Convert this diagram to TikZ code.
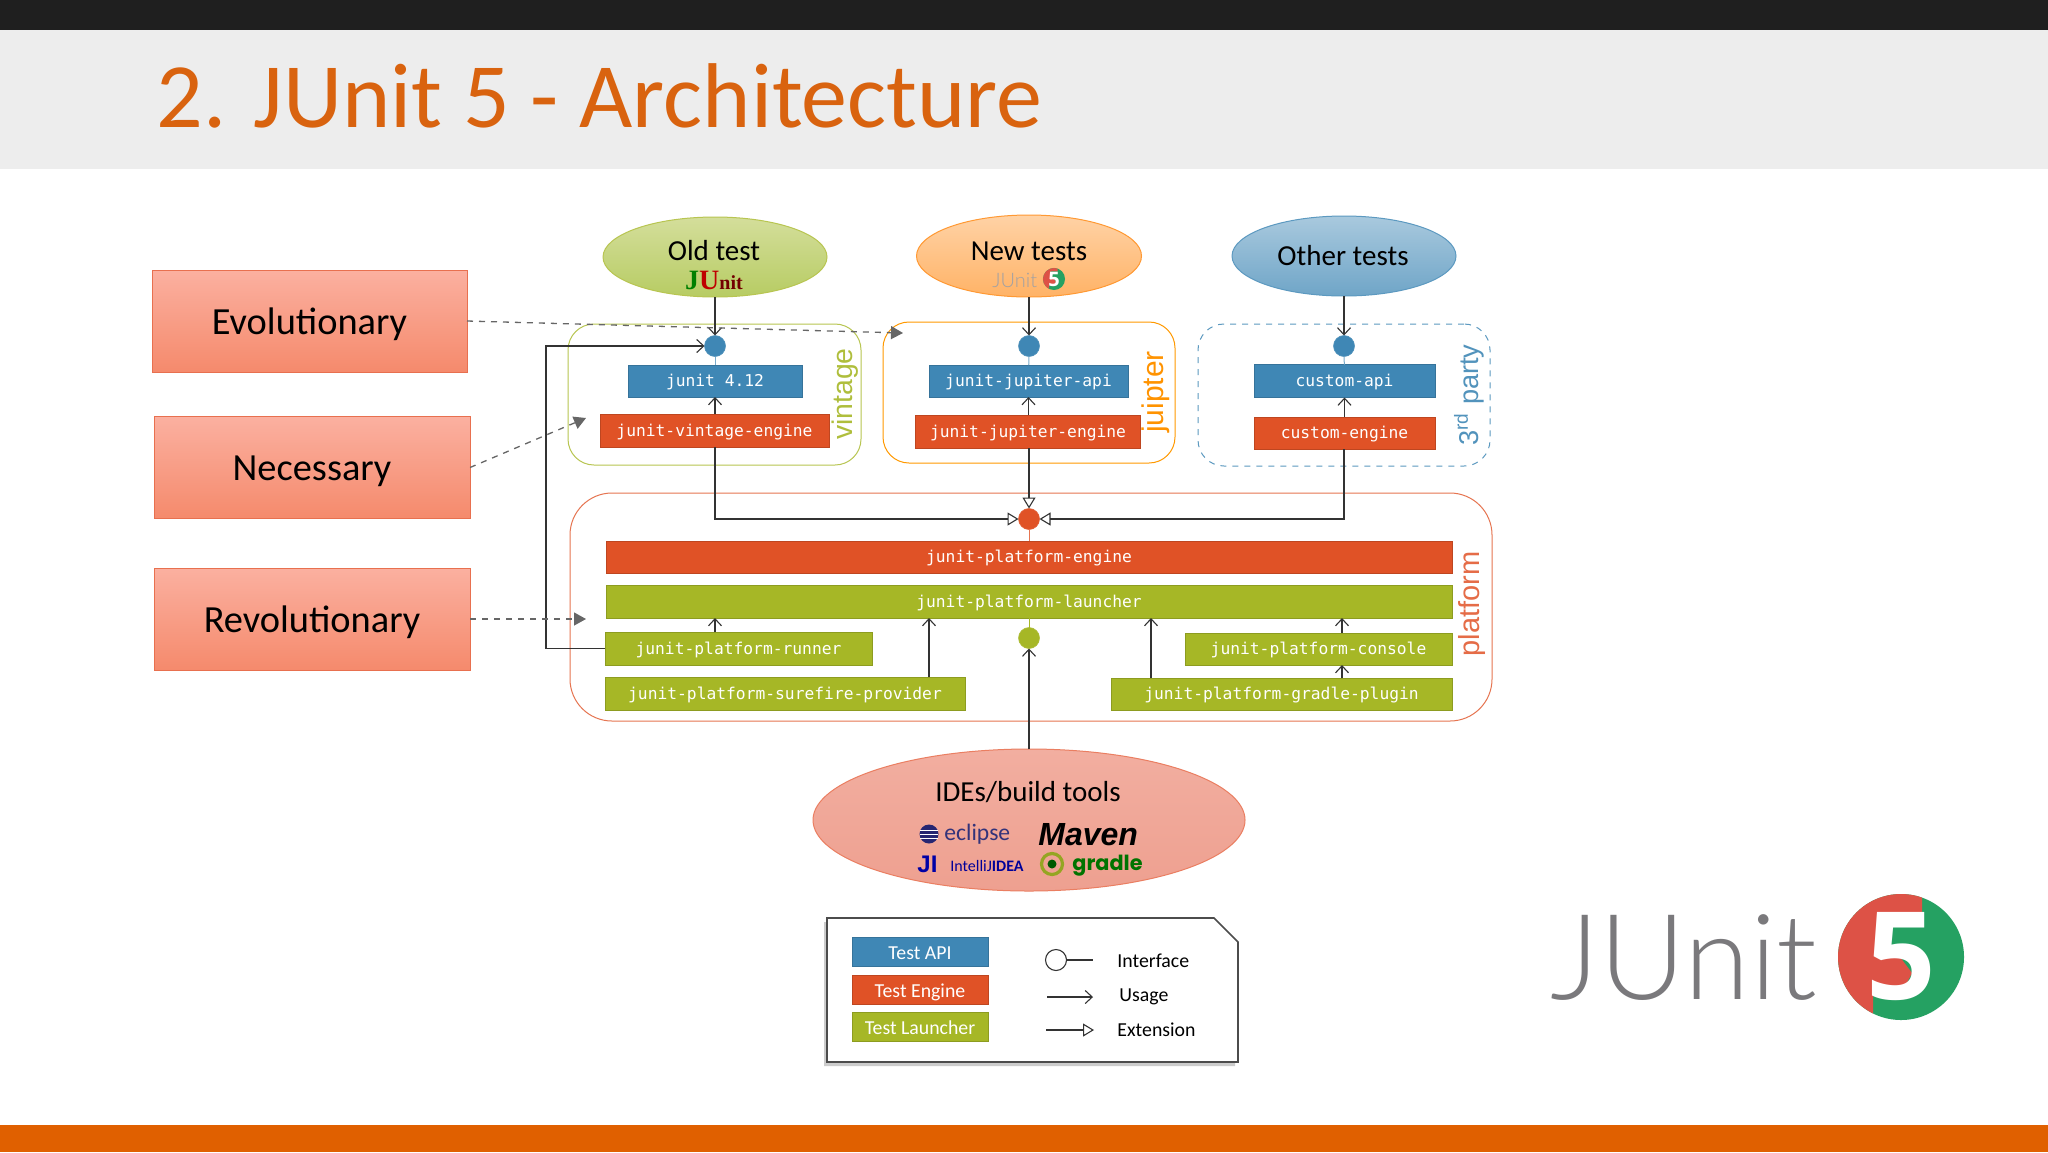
\documentclass[tikz,border=0pt]{standalone}
\usepackage{fontspec}
\setmainfont{Carlito}
\newfontfamily\codefont{DejaVu Sans Mono}
\newfontfamily\tagfont{Liberation Sans}
\newfontfamily\oldfont{Liberation Serif}
\newfontfamily\logofont{Lato}[UprightFont=* Light]
\newfontfamily\fivefont{Open Sans}
\newfontfamily\gradlefont{Poppins}
\usetikzlibrary{arrows.meta,calc,shadows,shapes.geometric}
\def\px{0.5pt}
\definecolor{apiblue}{HTML}{3F87B5}
\definecolor{enginered}{HTML}{E05226}
\definecolor{launchgreen}{HTML}{A6B726}
\definecolor{titleorange}{HTML}{D9630F}
\definecolor{barorange}{HTML}{E06000}
\definecolor{logored}{HTML}{DD5246}
\definecolor{logogreen}{HTML}{25A162}
\definecolor{logogray}{HTML}{7A797C}
\definecolor{salmonT}{HTML}{FBB0A0}
\definecolor{salmonB}{HTML}{F58A6C}
\definecolor{salmonD}{HTML}{E8704F}
\tikzset{
  comp/.style n args={3}{
    rectangle,
    minimum width=#1*\px,
    minimum height=#2*\px,
    inner sep=0pt,
    outer sep=0pt,
    fill=#3,
    draw=#3!85!black,
    line width=0.3pt,
    text=white,
    text height=7.2pt,
    text depth=1.4pt,
    font=\codefont\fontsize{8.14}{10}\selectfont,
  },
  api/.style 2 args={comp={#1}{#2}{apiblue}},
  engine/.style 2 args={comp={#1}{#2}{enginered}},
  launcher/.style 2 args={comp={#1}{#2}{launchgreen}},
  legendbox/.style={text height=8pt, text depth=0.2pt, font=\fontsize{9.9}{11}\selectfont},
  group/.style n args={3}{
    rectangle,
    rounded corners=#1*\px,
    minimum width=#2*\px,
    minimum height=#3*\px,
    inner sep=0pt,
    outer sep=0pt,
    line width=0.5pt,
  },
  grouplabel/.style={
    rotate=90,
    inner sep=0pt,
    font=\tagfont\fontsize{#1}{15}\selectfont,
  },
  dot/.style={
    circle,
    minimum size=21*\px,
    inner sep=0pt,
    outer sep=0pt,
    fill=#1,
    draw=#1!90!white,
    line width=0.3pt,
  },
  cloud/.style n args={4}{
    ellipse,
    minimum width=#1*\px,
    minimum height=#2*\px,
    inner sep=0pt,
    outer sep=0pt,
    top color=#3,
    bottom color=#4,
    line width=0.5pt,
    font=\fontsize{14.5}{17}\selectfont,
  },
  kind/.style={
    rectangle,
    minimum width=#1*\px,
    minimum height=102*\px,
    inner sep=0pt,
    outer sep=0pt,
    top color=salmonT,
    bottom color=salmonB,
    draw=salmonD,
    line width=0.5pt,
    text height=16pt,
    text depth=2.6pt,
    font=\fontsize{19.2}{22}\selectfont,
  },
  use/.style={->, >={Straight Barb[length=3.5pt,width=6.5pt]}, line width=0.55pt, draw=black!80},
  ext/.style={->, >={Triangle[open,length=5.5pt,width=6.5pt,fill=white]}, line width=0.55pt, draw=black!80},
  hint/.style={->, >={Triangle[length=6pt,width=6.5pt]}, dashed, line width=0.65pt, draw=black!60},
  stub/.style={line width=0.5pt, draw=#1},
}
% round 5 badge: radius in reference pixels over 63
\newcommand{\fivebadge}[4]{
  \begin{scope}[shift={(#1,#2)}, x=#3*0.5pt, y=-#3*0.5pt]
    \fill[logogreen] (0,0) circle (63);
    \begin{scope}
      \clip (0,0) circle (63);
      \fill[logored] (-70,-70) -- (21,-70) -- (21,-44) -- (-19,-44) -- (-19,-4) -- (-1,0)
        -- (11,16) -- (2,33) -- (-28,36) -- (-28,70) -- (-70,70) -- cycle;
    \end{scope}
    \node[text=white, inner sep=0pt] at (0,0) {\fivefont\bfseries\fontsize{#4}{#4}\selectfont 5};
  \end{scope}
}
\begin{document}
\begin{tikzpicture}[x=0.5pt, y=-0.5pt]
  \useasboundingbox (0,0) rectangle (2048,1152);
  \fill[white] (0,0) rectangle (2048,1152);

  %% Slide frame
  \fill[black!88] (0,0) rectangle (2048,30);
  \fill[black!7] (0,30) rectangle (2048,169);
  \fill[barorange] (0,1125) rectangle (2048,1152);
  \node[anchor=base west, inner sep=0pt, text=titleorange, font=\fontsize{46}{50}\selectfont] (title) at (156,127) {2. JUnit 5 - Architecture};

  %% Kinds of change
  \node[kind=315] (evo) at (309.5,321) {Evolutionary};
  \node[kind=316] (nec) at (312,467.5) {Necessary};
  \node[kind=316] (rev) at (312,619) {Revolutionary};

  %% Groups
  \node[group={26}{293}{141}, draw=launchgreen!80] (gvintage) at (714.5,394.5) {};
  \node[group={26}{292}{141}, draw=orange!80!yellow] (gjupiter) at (1029,392.5) {};
  \node[group={26}{292}{142}, draw=apiblue!85, dashed] (gparty) at (1344,395) {};
  \node[group={42}{922}{228}, draw=enginered!80] (gplatform) at (1031,607) {};
  \node[grouplabel=14.2, text=launchgreen!90] (lvintage) at (845,394) {vintage};
  \node[grouplabel=15, text=orange!85!yellow] (ljupiter) at (1156,392) {juipter};
  \node[grouplabel=13.6, text=apiblue!90] (lparty) at (1469,395) {3\textsuperscript{rd} party};
  \node[grouplabel=14.5, text=enginered!85] (lplatform) at (1472,604) {platform};

  %% Test ellipses
  \definecolor{oldT}{HTML}{D4DE9B}
  \definecolor{oldB}{HTML}{B7CC63}
  \node[cloud={224}{80}{oldT}{oldB}, draw=launchgreen!80] (oldtest) at (715,257) {};
  \node[cloud={225}{82}{orange!35}{orange!60}, draw=orange!80] (newtest) at (1029,256) {};
  \node[cloud={224}{80}{apiblue!45}{apiblue!75}, draw=apiblue!85] (othertest) at (1344,256) {};
  \node[font=\fontsize{14.5}{17}\selectfont, inner sep=0pt] (toldtest) at (714,251) {Old test};
  \node[font=\fontsize{14.5}{17}\selectfont, inner sep=0pt] (tnewtest) at (1029,251) {New tests};
  \node[font=\fontsize{14.5}{17}\selectfont, inner sep=0pt] (tothertest) at (1343,256) {Other tests};
  \node[anchor=base, inner sep=0pt, font=\oldfont\bfseries] (oldlogo) at (714,289)
    {\fontsize{14}{14}\selectfont\textcolor{green!50!black}{J}\textcolor{red!75!black}{U}\fontsize{10}{10}\selectfont\textcolor{red!45!black}{nit}};
  \node[anchor=base west, inner sep=0pt, text=logogray!70, font=\logofont\fontsize{10}{12}\selectfont] (newlogo) at (992,287) {JUnit};
  \fivebadge{1054}{279}{0.175}{10}

  %% Interfaces
  \node[dot=apiblue] (dold) at (715,346) {};
  \node[dot=apiblue] (dnew) at (1029,346) {};
  \node[dot=apiblue] (dother) at (1344,346) {};
  \node[dot=enginered] (dengine) at (1029,519) {};
  \node[dot=launchgreen] (dlaunch) at (1029,638) {};

  %% Components
  \node[api={174}{32}] (junit4) at (715,381) {junit 4.12};
  \node[engine={229}{33}] (vengine) at (714.5,430.5) {junit-vintage-engine};
  \node[api={199}{32}] (japi) at (1028.5,381) {junit-jupiter-api};
  \node[engine={225}{33}] (jengine) at (1028,431.5) {junit-jupiter-engine};
  \node[api={181}{33}] (capi) at (1344.5,381) {custom-api};
  \node[engine={181}{32}] (cengine) at (1344.5,433) {custom-engine};
  \node[engine={846}{32}] (pengine) at (1029,557) {junit-platform-engine};
  \node[launcher={846}{33}] (plauncher) at (1029,601.5) {junit-platform-launcher};
  \node[launcher={267}{33}] (prunner) at (738.5,648.5) {junit-platform-runner};
  \node[launcher={360}{33}] (psurefire) at (785,693.5) {junit-platform-surefire-provider};
  \node[launcher={267}{32}] (pconsole) at (1318.5,649) {junit-platform-console};
  \node[launcher={341}{32}] (pgradle) at (1281.5,694) {junit-platform-gradle-plugin};

  %% IDEs
  \definecolor{ideT}{HTML}{F2AEA0}
  \definecolor{ideB}{HTML}{EEA090}
  \node[cloud={432}{142}{ideT}{ideB}, draw=salmonD!90] (ides) at (1029,820) {};
  \node[inner sep=0pt, font=\fontsize{14.5}{17}\selectfont] (tides) at (1028,792) {IDEs/build tools};
  \fill[blue!35!black!85] (929,834) circle (9.5);
  \foreach \y in {830,834,838} \draw[white, line width=0.5pt] (920,\y) -- (938,\y);
  \node[anchor=base west, inner sep=0pt, text=blue!35!black!80, font=\fontsize{11.8}{14}\selectfont] (teclipse) at (944,840) {eclipse};
  \node[anchor=base west, inner sep=0pt, font=\tagfont\bfseries\itshape\fontsize{16}{18}\selectfont] (tmaven) at (1038,845) {Maven};
  \node[anchor=base west, inner sep=0pt, text=blue!65!black, font=\tagfont\bfseries\fontsize{12}{14}\selectfont] (tji) at (917,872) {JI};
  \node[anchor=base west, inner sep=0pt, text=blue!60!black, font=\fontsize{8}{10}\selectfont] (tidea) at (950,871) {IntelliJ\textbf{IDEA}};
  \draw[launchgreen!90!black, line width=1.6pt] (1052,864) circle (10.5);
  \fill[green!35!black] (1052,864) circle (4.5);
  \node[anchor=base west, inner sep=0pt, text=green!45!black, font=\gradlefont\bfseries\fontsize{10.4}{14}\selectfont] (tgradle) at (1072,870) {gradle};

  %% Legend
  \draw[black!70, line width=0.8pt, fill=white, drop shadow={shadow xshift=-1.5pt, shadow yshift=-2pt, opacity=0.4}]
    (827,918) -- (1214,918) -- (1238,942) -- (1238,1062) -- (827,1062) -- cycle;
  \node[api={136}{29}, legendbox] (lapi) at (920,951.5) {Test API};
  \node[engine={136}{29}, legendbox] (lengine) at (920,989.5) {Test Engine};
  \node[launcher={136}{29}, legendbox] (llauncher) at (920,1026.5) {Test Launcher};
  \node[dot=white, draw=black!80, line width=0.55pt] (lface) at (1056,960) {};
  \coordinate (lfaceend) at (1093,960);
  \coordinate (lusea) at (1047,997);
  \coordinate (luseb) at (1093,997);
  \coordinate (lexta) at (1046,1030);
  \coordinate (lextb) at (1094,1030);
  \node[anchor=west, inner sep=0pt, font=\fontsize{9.9}{11}\selectfont] (tface) at (1117,961) {Interface};
  \node[anchor=west, inner sep=0pt, font=\fontsize{9.9}{11}\selectfont] (tuse) at (1119,997) {Usage};
  \node[anchor=west, inner sep=0pt, font=\fontsize{9.9}{11}\selectfont] (text) at (1117,1030) {Extension};
  \draw[line width=0.55pt, draw=black!80] (lface) -- (lfaceend);
  \draw[use] (lusea) -- (luseb);
  \draw[ext] (lexta) -- (lextb);

  %% Logo
  \node[anchor=base west, inner sep=0pt, text=logogray, font=\logofont\fontsize{59.5}{66}\selectfont] (biglogo) at (1550,999) {JUnit};
  \fivebadge{1901}{957}{1}{61}

  %% Edges
  \draw[use] (oldtest) -- (dold);
  \draw[use] (newtest) -- (dnew);
  \draw[use] (othertest) -- (dother);
  \draw[stub=apiblue!70] (dold) -- (junit4);
  \draw[stub=apiblue!70] (dnew) -- (japi);
  \draw[stub=apiblue!70] (dother) -- (capi);
  \draw[use] (vengine.north-|junit4) -- (junit4);
  \draw[use] (jengine.north-|japi) -- (japi);
  \draw[use] (cengine) -- (capi);
  \draw[stub=enginered!80] (dengine) -- (pengine.north-|dengine);
  \draw[stub=launchgreen] (dlaunch) -- (plauncher.south-|dlaunch);

  % engines to the platform interface
  \draw[ext] (vengine.south-|oldtest) |- (dengine);
  \draw[ext] (jengine.south-|dengine) -- (dengine);
  \draw[ext] (cengine.south-|dother) |- (dengine);
  \draw[use] (ides.north-|dlaunch) -- (dlaunch);

  % launcher clients
  \coordinate (psfup) at ($(psurefire.north)+(144,0)$);
  \coordinate (pgrup) at ($(pgradle.north)+(-130.5,0)$);
  \coordinate (pcoup) at ($(pconsole.north)+(23.5,0)$);
  \coordinate (prturn) at (546,346);
  \draw[use] (prunner.north-|dold) -- (plauncher.south-|dold);
  \draw[use] (psfup) -- (psfup|-plauncher.south);
  \draw[use] (pgrup) -- (pgrup|-plauncher.south);
  \draw[use] (pcoup) -- (pcoup|-plauncher.south);
  \draw[use] (pgradle.north-|pcoup) -- (pconsole.south-|pcoup);
  \draw[use] (prunner.west) -| (prturn) -- (dold);

  % dashed hints
  \coordinate (hevo) at (903,333);
  \coordinate (hnec) at (586,418);
  \coordinate (hrev) at (586,619);
  \draw[hint] (evo.east) -- (hevo);
  \draw[hint] (nec.east) -- (hnec);
  \draw[hint] (rev.east) -- (hrev);
\end{tikzpicture}
\end{document}
